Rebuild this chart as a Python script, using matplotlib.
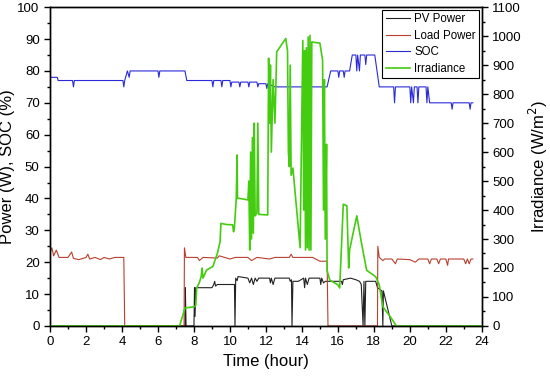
import matplotlib
matplotlib.use("Agg")
import matplotlib.pyplot as plt
from matplotlib.ticker import MultipleLocator

plt.rcParams['font.family'] = ['Liberation Sans', 'DejaVu Sans']

# PV power (W)
pv_hour = [0, 7.5, 7.52, 7.56, 8.0, 8.03, 8.06, 8.1, 9.0, 9.1, 9.15, 9.2, 9.3, 10.25, 10.28,
           10.32, 10.4, 10.45, 11.0, 11.1, 11.2, 11.3, 11.4, 11.5, 11.6, 12.2, 12.25, 12.3,
           12.4, 12.5, 13.3, 13.35, 13.42, 13.45, 13.5, 13.8, 14.1, 14.15, 14.2, 14.3, 14.4,
           15.0, 15.05, 15.1, 15.2, 15.3, 16.2, 16.25, 16.3, 16.7, 17.0, 17.2, 17.3, 17.4,
           17.45, 17.5, 17.55, 18.1, 18.2, 18.45, 18.5, 18.53, 19.0, 24]
pv_power = [0, 0, 12, 0, 0, 12, 3, 12, 12, 13, 14, 12.5, 13, 13, 0,
            15, 14.2, 15.5, 15, 13.5, 15, 13, 15, 14, 15, 15, 13.5, 15,
            13, 15, 15, 14, 14.5, 0, 14, 14, 15, 12, 15, 13, 15,
            15, 13, 15, 13.5, 14, 14, 13, 14.5, 15, 14.5, 14, 13, 0,
            14, 0, 14, 14, 12, 11, 0, 11, 0, 0]

# Load power (W)
load_hour = [0, 0.1, 0.2, 0.35, 0.5, 1.0, 1.2, 1.3, 1.6, 2.0, 2.1, 2.2, 2.5, 2.8, 3.0, 3.3,
             3.6, 4.1, 4.15, 7.45, 7.47, 7.55, 8.2, 8.3, 8.5, 9.3, 9.4, 10.0, 10.3, 11.0,
             11.2, 11.5, 12.2, 12.5, 13.3, 13.4, 13.5, 14.6, 15.0, 15.4, 15.45, 18.2, 18.22,
             18.3, 18.5, 18.6, 19.0, 19.2, 19.3, 20.0, 20.3, 20.5, 21.0, 21.1, 21.2, 21.5,
             21.6, 21.7, 22.0, 22.1, 22.15, 23.0, 23.1, 23.2, 23.3, 23.4, 23.5]
load_power = [23, 24.5, 22, 23.8, 21.5, 21.5, 23.2, 21.2, 20.8, 21.5, 22.5, 21, 21.5, 20.8, 21.5, 21,
              21.5, 21.5, 0, 0, 24.5, 21.5, 21.5, 20.5, 21.5, 21.3, 22, 21, 21.5, 21.5,
              20.5, 21.5, 21, 21.5, 21.5, 22.5, 21.5, 21.5, 20.3, 20.3, 0, 0, 25,
              21.5, 20.5, 21, 21, 19.5, 21, 20.8, 20, 21, 21, 19.5, 21, 21,
              19.5, 21, 21, 19, 21, 21, 19.5, 21, 19.5, 21, 21]

# State of charge (%)
soc_hour = [0, 0.4, 0.45, 1.25, 1.3, 1.35, 4.05, 4.1, 4.15, 4.3, 4.4, 4.45, 6.0, 6.05, 6.1,
            7.5, 7.6, 9.0, 9.05, 9.1, 9.5, 9.55, 9.6, 10.0, 10.05, 10.1, 10.5, 10.55, 10.6,
            11.0, 11.05, 11.1, 11.5, 11.55, 11.6, 12.0, 12.05, 12.1, 12.5, 15.4, 15.6, 16.0,
            16.05, 16.1, 16.3, 16.35, 16.4, 16.65, 16.8, 17.0, 17.05, 17.1, 17.2, 17.25, 17.5,
            17.55, 17.6, 18.05, 18.3, 19.1, 19.15, 19.2, 20.0, 20.05, 20.1, 20.2, 20.25, 20.4,
            20.45, 20.5, 20.9, 20.95, 21.0, 21.1, 22.3, 22.35, 22.4, 23.3, 23.35, 23.4, 23.5]
soc = [78, 78, 77, 77, 75, 77, 77, 75, 77, 80, 78, 80, 80, 78, 80,
       80, 77, 77, 75, 77, 77, 75, 77, 77, 75, 76.5, 76.5, 75, 76.5,
       76.5, 75, 76.5, 76.5, 75, 76, 76, 74.5, 76, 75, 75, 80, 80,
       78, 80, 80, 78, 80, 80, 85, 85, 80, 85, 80, 85, 85,
       82, 85, 85, 75, 75, 70, 75, 75, 70, 75, 70, 75, 75,
       70, 75, 75, 70, 75, 70, 70, 68, 70, 70, 68, 70, 70]

# Irradiance (W/m2)
irr_hour = [0, 7.2, 7.5, 8.0, 8.1, 8.15, 8.3, 8.4, 8.45, 8.5, 8.7, 9.05, 9.3, 9.45, 9.5, 9.8,
            10.15, 10.2, 10.25, 10.35, 10.4, 10.42, 10.55, 11.0, 11.05, 11.1, 11.15, 11.2,
            11.25, 11.3, 11.35, 11.4, 11.5, 11.55, 11.6, 12.1, 12.15, 12.2, 12.25, 12.3, 12.4,
            12.5, 12.6, 13.1, 13.2, 13.25, 13.3, 13.35, 13.4, 13.5, 13.9, 14.05, 14.1, 14.15,
            14.2, 14.25, 14.3, 14.35, 14.4, 14.45, 14.5, 14.55, 15.0, 15.15, 15.2, 15.25, 15.3,
            15.37, 15.4, 15.55, 16.0, 16.1, 16.3, 16.5, 16.6, 16.65, 17.05, 17.3, 17.6, 18.1,
            18.3, 18.5, 18.9, 19.25, 24]
irradiance = [0, 0, 62, 66, 70, 131, 150, 170, 200, 165, 193, 205, 250, 290, 354, 350,
              349, 325, 340, 440, 590, 440, 440, 435, 500, 262, 600, 300,
              650, 320, 700, 380, 390, 700, 385, 383, 924, 700, 900, 600, 850,
              700, 946, 992, 950, 600, 550, 900, 520, 545, 270, 985, 400, 950,
              262, 960, 270, 997, 262, 1003, 262, 980, 976, 917, 400, 850, 300,
              627, 192, 158, 142, 131, 420, 415, 200, 262, 380, 290, 192, 170,
              142, 66, 33, 0, 0]

fig, ax = plt.subplots(figsize=(5.5, 3.79), dpi=100)
fig.subplots_adjust(left=0.091, right=0.876, bottom=0.14, top=0.981)
ax2 = ax.twinx()

l1, = ax.plot(pv_hour, pv_power, color='#222222', lw=0.8, label='PV Power')
l2, = ax.plot(load_hour, load_power, color='#b8402e', lw=0.8, label='Load Power')
l3, = ax.plot(soc_hour, soc, color='#2a2ad8', lw=0.8, label='SOC')
l4, = ax2.plot(irr_hour, irradiance, color='#44cc11', lw=1.2, label='Irradiance')

ax.set_xlim(0, 24)
ax.set_ylim(0, 100)
ax2.set_ylim(0, 1100)
ax.xaxis.set_major_locator(MultipleLocator(2))
ax.xaxis.set_minor_locator(MultipleLocator(1))
ax.yaxis.set_major_locator(MultipleLocator(10))
ax.yaxis.set_minor_locator(MultipleLocator(5))
ax2.yaxis.set_major_locator(MultipleLocator(100))
ax2.yaxis.set_minor_locator(MultipleLocator(50))

for a in (ax, ax2):
    a.tick_params(which='major', direction='out', length=4, width=1, labelsize=9.5)
    a.tick_params(which='minor', direction='out', length=2, width=1)
    for s in a.spines.values():
        s.set_linewidth(1.0)

ax.set_xlabel('Time (hour)', fontsize=12)
ax.set_ylabel('Power (W), SOC (%)', fontsize=12, labelpad=2)
ax2.set_ylabel('Irradiance (W/m$^2$)', fontsize=12, labelpad=4)

leg = ax2.legend(handles=[l1, l2, l3, l4], loc='upper right', fontsize=8.3,
                 frameon=True, fancybox=False, edgecolor='black', framealpha=1,
                 borderpad=0.3, labelspacing=0.4, handlelength=2.1, handletextpad=0.4,
                 borderaxespad=0.2)
leg.get_frame().set_linewidth(0.8)

fig.savefig('out.png', dpi=100)
